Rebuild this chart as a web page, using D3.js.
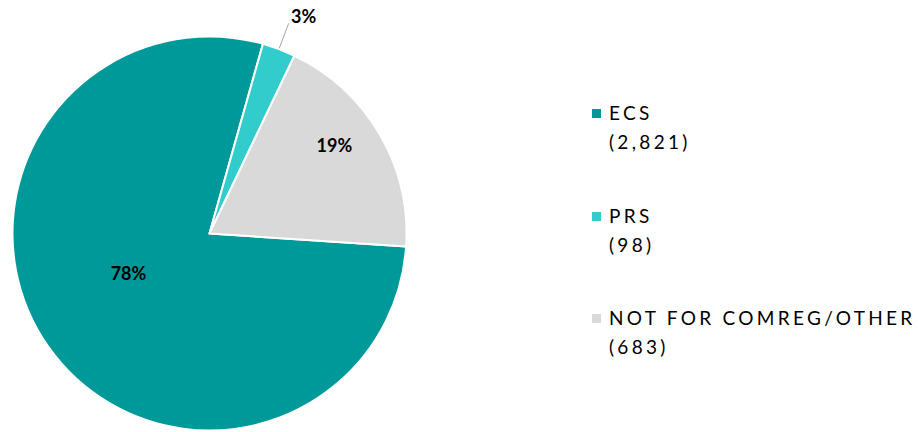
<!DOCTYPE html>
<html>
<head>
<meta charset="utf-8">
<script src="https://cdn.jsdelivr.net/npm/d3@7"></script>
<style>
	body { margin: 0; background: white; }
	text { font-family: Lato, "Open Sans", sans-serif; }
</style>
</head>
<body>
<svg></svg>
<script>
var categories = ["ECS", "PRS", "NOT FOR COMREG/OTHER"];
var values = [2821, 98, 683];
var colors = ["#009999", "#33CCCC", "#D9D9D9"];

var width = 918, height = 432;
var cx = 209.5, cy = 233.5, radius = 197;

var svg = d3.select("svg").attr("width", width).attr("height", height);

var total = d3.sum(values);
var start = 93.8 * Math.PI / 180;
var pie = d3.pie().sort(null).startAngle(start).endAngle(start + 2 * Math.PI);
var arcs = pie(values);
var arc = d3.arc().innerRadius(0).outerRadius(radius);

var g = svg.append("g").attr("transform", "translate(" + cx + "," + cy + ")");

g.selectAll("path").data(arcs).enter().append("path")
	.attr("d", arc)
	.attr("fill", function(d, i){ return colors[i]; })
	.attr("stroke", "white")
	.attr("stroke-width", 2)
	.attr("stroke-linejoin", "round");

// percent labels (radius fraction + small nudges)
var labelR = [0.46, 1.14, 0.77];
var nudge = [[-7, -12], [15, -7], [-6, -11]];
arcs.forEach(function(d, i){
	var a = (d.startAngle + d.endAngle) / 2;
	var r = radius * labelR[i];
	var x = Math.sin(a) * r, y = -Math.cos(a) * r;
	if (i == 1) {
		// leader line for the small slice
		g.append("line")
			.attr("x1", Math.sin(a) * (radius + 1)).attr("y1", -Math.cos(a) * (radius + 1))
			.attr("x2", x).attr("y2", y)
			.attr("stroke", "#a6a6a6").attr("stroke-width", 1);
	}
	g.append("text")
		.attr("x", x + nudge[i][0]).attr("y", y + nudge[i][1])
		.attr("text-anchor", "middle")
		.attr("dy", "0.35em")
		.attr("font-size", 18)
		.attr("font-weight", "bold")
		.attr("fill", "black")
		.text(Math.round(values[i] / total * 100) + "%");
});

// legend
var legendY = [120, 223, 325];
var legend = svg.selectAll("g.legend").data(categories).enter().append("g")
	.attr("class", "legend")
	.attr("transform", function(c, i){ return "translate(592," + legendY[i] + ")"; });

legend.append("rect")
	.attr("x", 0).attr("y", -11)
	.attr("width", 9).attr("height", 9)
	.attr("fill", function(c, i){ return colors[i]; });

legend.append("text")
	.attr("x", 17).attr("y", 0)
	.attr("font-size", 19)
	.attr("letter-spacing", 3.3)
	.attr("fill", "black")
	.text(function(c){ return c; });

legend.append("text")
	.attr("x", 17).attr("y", 29)
	.attr("font-size", 19)
	.attr("letter-spacing", 3.3)
	.attr("fill", "black")
	.text(function(c, i){ return "(" + d3.format(",")(values[i]) + ")"; });
</script>
</body>
</html>
